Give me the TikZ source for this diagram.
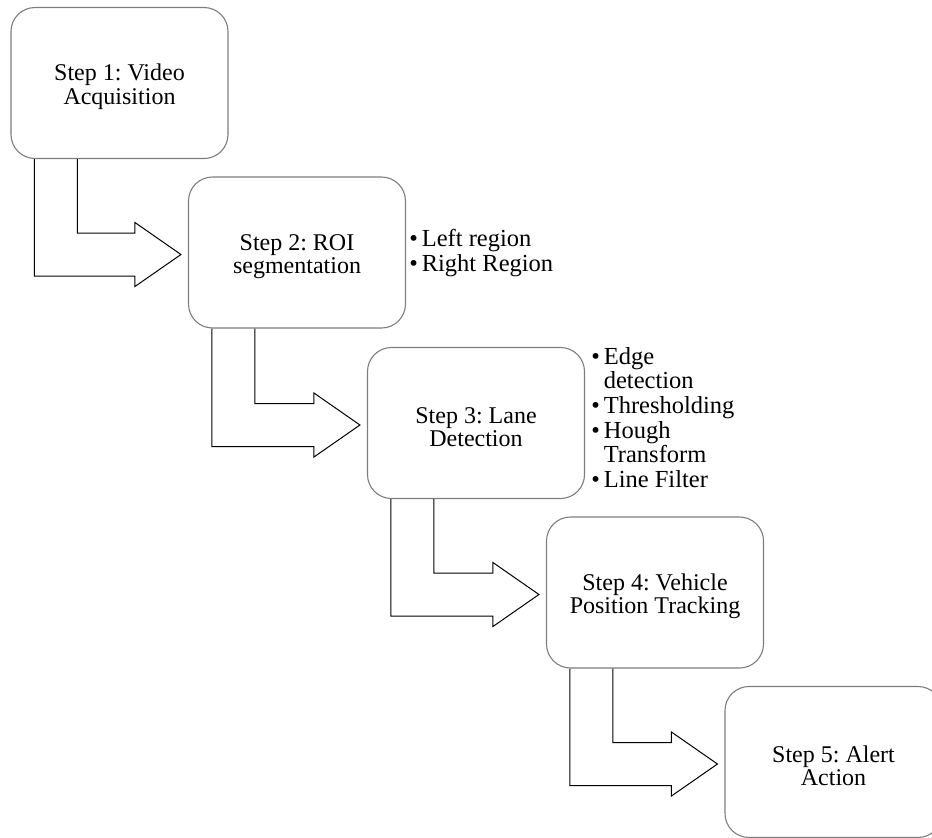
\documentclass[tikz,border=0pt]{standalone}
\usepackage{fontspec}
\setmainfont{Liberation Serif}
\usetikzlibrary{calc}
\definecolor{boxgray}{RGB}{125,125,125}
\newcommand{\tallstrut}{\rule{0pt}{24pt}}
\tikzset{
  stepbox/.style={draw=boxgray, line width=1.1pt, rounded corners=24pt,
    minimum width=217pt, minimum height=151pt, align=center, inner sep=0pt,
    font=\fontsize{24}{23.5}\selectfont\frenchspacing},
  bentarrow/.style={draw=black, line width=1pt, line join=miter},
  itemlist/.style={inner sep=0pt, anchor=north west,
    font=\fontsize{24.5}{24.6}\selectfont}
}
\begin{document}
\begin{tikzpicture}[x=1pt, y=-1pt]
\useasboundingbox (0,0) rectangle (932,838);
% steps
\node[stepbox] (s1) at (119.5,83) {\tallstrut Step 1: Video\\Acquisition};
\node[stepbox] (s2) at (297,252.5) {\tallstrut Step 2: ROI\\segmentation};
\node[stepbox] (s3) at (476,423) {\tallstrut Step 3: Lane\\Detection};
\node[stepbox] (s4) at (655,592.5) {\tallstrut Step 4: Vehicle\\Position Tracking};
\node[stepbox] (s5) at (833.5,762) {\tallstrut Step 5: Alert\\Action};
% sub tasks
\node[itemlist] (l2) at ($(s2.north east)+(3,53)$) {%
  \begin{tabular}{@{}l@{\hspace{4pt}}l@{}}
  \textbullet & Left region\\
  \textbullet & Right Region
  \end{tabular}};
\node[itemlist] (l3) at ($(s3.north east)+(6,0)$) {%
  \begin{tabular}{@{}l@{\hspace{4pt}}l@{}}
  \textbullet & Edge\\
              & detection\\
  \textbullet & Thresholding\\
  \textbullet & Hough\\
              & Transform\\
  \textbullet & Line Filter
  \end{tabular}};
% bent block arrows
\foreach \a/\b in {s1/s2, s2/s3, s3/s4, s4/s5}{
  \coordinate (o) at ($(\a.south west)+(24,0)$);
  \coordinate (i) at ($(\a.south west)+(67,0)$);
  \coordinate (m) at ($(\b.west)+(0,2)$);
  \draw[bentarrow] (o) -- ($(o|-m)+(0,21.5)$) -- ($(m)+(-53,21.5)$)
    -- ($(m)+(-53,32)$) -- ($(m)+(-7,0)$) -- ($(m)+(-53,-32)$)
    -- ($(m)+(-53,-21.5)$) -- ($(i|-m)+(0,-21.5)$) -- (i);
}
\end{tikzpicture}
\end{document}
